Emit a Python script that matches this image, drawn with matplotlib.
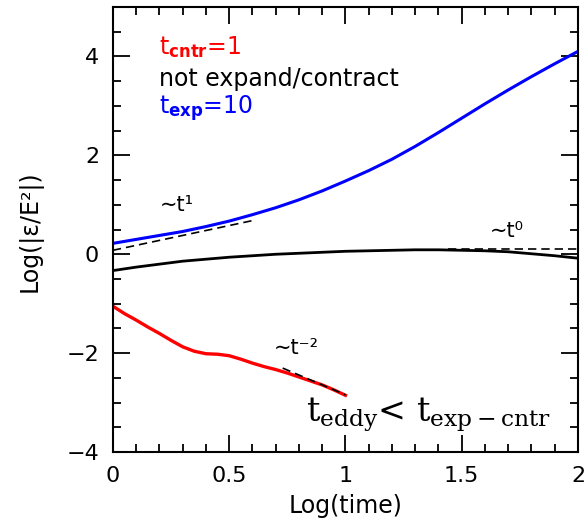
import matplotlib
matplotlib.use("Agg")
import matplotlib.pyplot as plt
from matplotlib.ticker import MultipleLocator

plt.rcParams["mathtext.fontset"] = "custom"
plt.rcParams["mathtext.rm"] = "DejaVu Serif"
plt.rcParams["mathtext.it"] = "DejaVu Serif:italic"
plt.rcParams["mathtext.bf"] = "DejaVu Sans:bold"

# ── Data ────────────────────────────────────────────────────────────────────
t_blue = [0.0, 0.1, 0.2, 0.3, 0.4, 0.5, 0.6, 0.7, 0.8, 0.9, 1.0,
          1.1, 1.2, 1.3, 1.4, 1.5, 1.6, 1.7, 1.8, 1.9, 2.0]
y_blue = [0.22, 0.30, 0.38, 0.46, 0.56, 0.67, 0.80, 0.94, 1.10, 1.28, 1.48,
          1.69, 1.92, 2.18, 2.46, 2.75, 3.04, 3.32, 3.59, 3.85, 4.10]

t_black = [0.0, 0.1, 0.2, 0.3, 0.4, 0.5, 0.6, 0.7, 0.8, 0.9, 1.0,
           1.1, 1.2, 1.3, 1.4, 1.5, 1.6, 1.7, 1.8, 1.9, 2.0]
y_black = [-0.33, -0.26, -0.20, -0.14, -0.10, -0.06, -0.03, 0.00, 0.02, 0.04, 0.06,
           0.07, 0.08, 0.09, 0.09, 0.08, 0.07, 0.05, 0.01, -0.03, -0.08]

t_red = [0.0, 0.05, 0.1, 0.15, 0.2, 0.25, 0.3, 0.35, 0.4, 0.45, 0.5,
         0.55, 0.6, 0.65, 0.7, 0.75, 0.8, 0.85, 0.9, 0.95, 1.0]
y_red = [-1.05, -1.20, -1.33, -1.47, -1.60, -1.74, -1.87, -1.96, -2.01, -2.02, -2.05,
         -2.12, -2.20, -2.27, -2.33, -2.40, -2.48, -2.56, -2.64, -2.74, -2.85]

# power-law guide lines
t_fit1 = [0.0, 0.6]
y_fit1 = [0.08, 0.68]
t_fit0 = [1.44, 2.0]
y_fit0 = [0.10, 0.10]
t_fit2 = [0.73, 1.0]
y_fit2 = [-2.30, -2.84]

FONT = "DejaVu Sans"

fig = plt.figure(figsize=(5.88, 5.24), dpi=100)
ax = fig.add_axes([0.192, 0.137, 0.791, 0.850])

ax.plot(t_blue, y_blue, color="#0000ff", lw=2.2)
ax.plot(t_black, y_black, color="black", lw=2.0)
ax.plot(t_red, y_red, color="#ff0000", lw=2.4)

ax.plot(t_fit1, y_fit1, color="black", lw=1.2, ls=(0, (5, 3)))
ax.plot(t_fit0, y_fit0, color="black", lw=1.2, ls=(0, (5, 3)))
ax.plot(t_fit2, y_fit2, color="black", lw=1.2, ls=(0, (5, 3)))

ax.set_xlim(0, 2)
ax.set_ylim(-4, 5)
ax.xaxis.set_minor_locator(MultipleLocator(0.1))
ax.yaxis.set_minor_locator(MultipleLocator(0.5))
ax.set_xticks([0, 0.5, 1, 1.5, 2])
ax.set_xticklabels(["0", "0.5", "1", "1.5", "2"])
ax.set_yticks([-4, -2, 0, 2, 4])
ax.set_yticklabels(["\u22124", "\u22122", "0", "2", "4"])

ax.tick_params(which="both", direction="in", top=True, right=True, width=1.3)
ax.tick_params(which="major", length=12, labelsize=16, pad=10)
ax.tick_params(which="minor", length=6)
for s in ax.spines.values():
    s.set_linewidth(1.5)

ax.set_xlabel("Log(time)", fontsize=17, fontfamily=FONT)
ax.set_ylabel("Log(|\u03b5/E\u00b2|)", fontsize=17, fontfamily=FONT)
ax.xaxis.set_label_coords(0.5, -0.093)
ax.yaxis.set_label_coords(-0.152, 0.497)

# legend-like labels
ax.text(0.2, 4.18, r"t$_{\mathbf{cntr}}$=1", color="#ff0000", fontsize=17,
        va="center", family=FONT)
ax.text(0.2, 3.55, "not expand/contract", color="black", fontsize=17,
        va="center", family=FONT)
ax.text(0.2, 2.93, r"t$_{\mathbf{exp}}$=10", color="#0000ff", fontsize=17,
        va="center", family=FONT)

ax.text(0.2, 1.0, "\u223ct\u00b9", fontsize=15, va="center", family=FONT)
ax.text(1.62, 0.48, "\u223ct\u2070", fontsize=15, va="center", family=FONT)
ax.text(0.69, -1.9, "\u223ct\u207b\u00b2", fontsize=15, va="center", family=FONT)

ax.text(0.83, -3.24, r"$\mathrm{t_{eddy}}$< $\mathrm{t_{exp-cntr}}$",
        fontsize=24, va="center", family="DejaVu Serif")

fig.savefig("out.png", dpi=100)
